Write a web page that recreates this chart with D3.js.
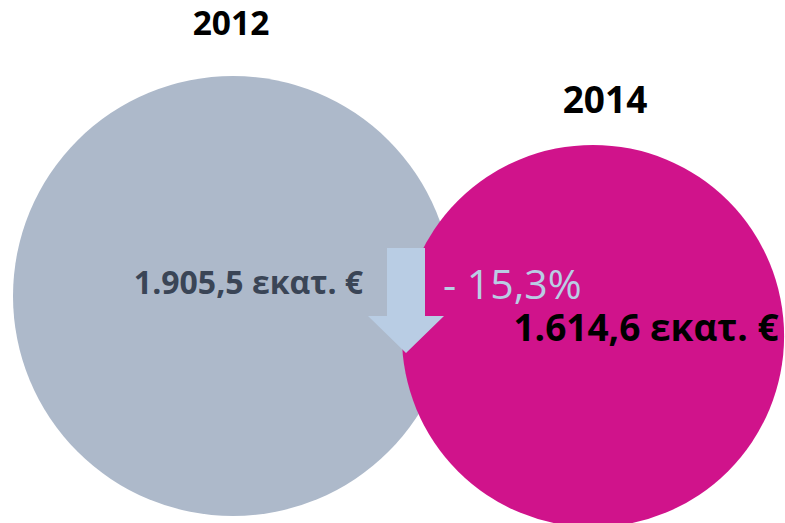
<!DOCTYPE html>
<html lang="el">
<head>
    <meta charset="UTF-8">
    <title>2012 - 2014</title>
    <style>
        body { margin: 0; background: #fff; }
        text { font-family: "Open Sans", "Noto Sans", sans-serif; }
    </style>
</head>
<body>
    <div id="chart-container"></div>
    <script src="https://d3js.org/d3.v7.min.js"></script>
    <script>
        const YEARS = ["2012", "2014"];
        const VALUES = [1905.5, 1614.6];
        const VALUE_LABELS = ["1.905,5 εκατ. €", "1.614,6 εκατ. €"];
        const CHANGE_LABEL = "- 15,3%";

        const WIDTH = 785, HEIGHT = 523;
        const COLORS = ["#adb9ca", "#d0138b"];
        const ARROW = "#b9cde4";

        const svg = d3.select("#chart-container").append("svg")
            .attr("width", WIDTH)
            .attr("height", HEIGHT);

        const data = YEARS.map((y, i) => ({year: y, value: VALUES[i], label: VALUE_LABELS[i]}));

        // circle size from value
        const r = d3.scalePow().exponent(0.85)
            .domain([0, d3.max(VALUES)])
            .range([0, 220]);
        const x = d3.scalePoint().domain(YEARS).range([233, 593]);
        const y = d3.scalePoint().domain(YEARS).range([296, 336]);

        svg.selectAll(".bubble").data(data).enter().append("circle")
            .attr("class", "bubble")
            .attr("cx", d => x(d.year))
            .attr("cy", d => y(d.year))
            .attr("r", d => r(d.value))
            .attr("fill", (d, i) => COLORS[i]);

        // year titles above each circle
        svg.selectAll(".year").data(data).enter().append("text")
            .attr("class", "year")
            .attr("x", (d, i) => x(d.year) + [-2, 12][i])
            .attr("y", (d, i) => y(d.year) - r(d.value) + [-41, -32][i])
            .attr("text-anchor", "middle")
            .attr("font-weight", 700)
            .attr("font-size", (d, i) => [33.5, 37][i])
            .attr("fill", "#000")
            .text(d => d.year);

        // down arrow between circles
        const a = {x: x(YEARS[0]) + r(VALUES[0]) - 47, top: 248, neck: 316, tip: 353};
        const arrow = d3.path();
        arrow.moveTo(a.x - 19, a.top);
        arrow.lineTo(a.x + 19, a.top);
        arrow.lineTo(a.x + 19, a.neck);
        arrow.lineTo(a.x + 38, a.neck);
        arrow.lineTo(a.x, a.tip);
        arrow.lineTo(a.x - 38, a.neck);
        arrow.lineTo(a.x - 19, a.neck);
        arrow.closePath();
        svg.append("path").attr("d", arrow.toString()).attr("fill", ARROW);

        // value labels
        svg.append("text")
            .attr("x", x(YEARS[0]) + 15.5)
            .attr("y", 294)
            .attr("text-anchor", "middle")
            .attr("font-weight", 700)
            .attr("font-size", 32)
            .attr("fill", "#3a4556")
            .text(data[0].label);

        svg.append("text")
            .attr("x", x(YEARS[1]) + 53)
            .attr("y", 341)
            .attr("text-anchor", "middle")
            .attr("font-weight", 700)
            .attr("font-size", 37)
            .attr("fill", "#000")
            .text(data[1].label);

        svg.append("text")
            .attr("x", 443)
            .attr("y", 299)
            .attr("font-size", 41)
            .attr("fill", ARROW)
            .text(CHANGE_LABEL);
    </script>
</body>
</html>
